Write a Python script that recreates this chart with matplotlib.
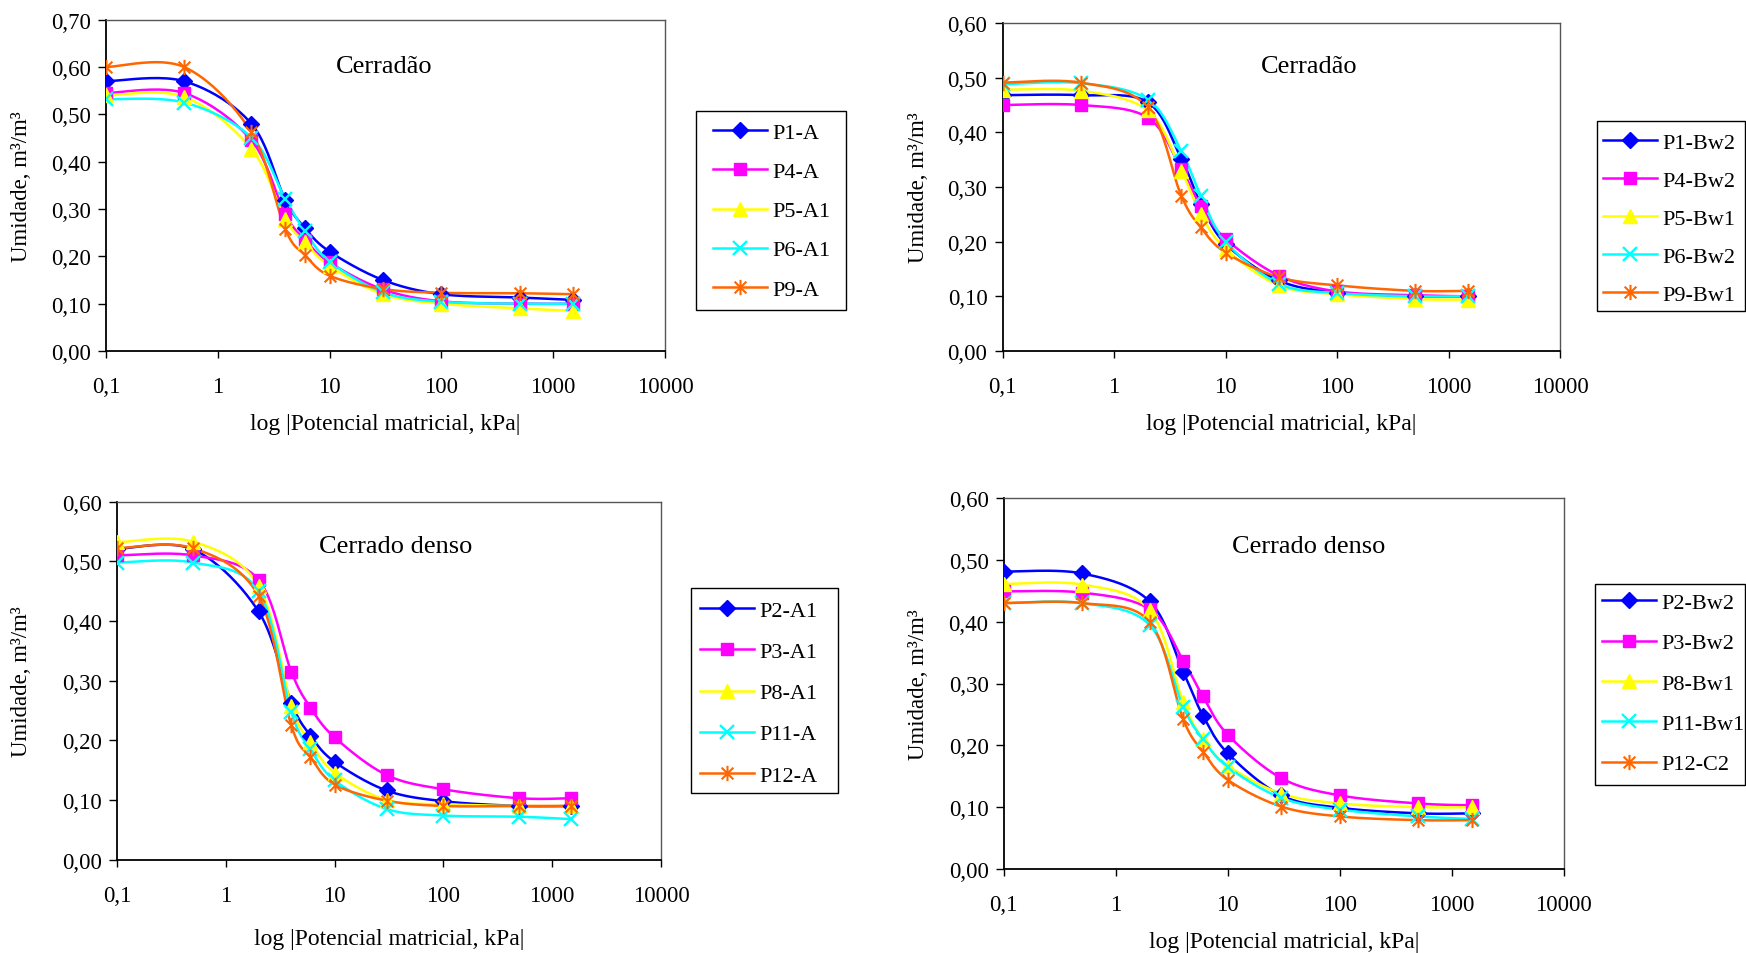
import numpy as np
import matplotlib
matplotlib.use('Agg')
import matplotlib.pyplot as plt
from matplotlib.lines import Line2D
from matplotlib.path import Path
from matplotlib.patches import Rectangle

plt.rcParams['font.family'] = ['Liberation Serif', 'DejaVu Serif']

# potencial matricial (kPa)
pot = [0.1, 0.5, 2, 4, 6, 10, 30, 100, 500, 1500]

# Cerradao - horizonte A
p1_a = [0.57, 0.57, 0.48, 0.32, 0.26, 0.21, 0.15, 0.12, 0.113, 0.108]
p4_a = [0.545, 0.545, 0.445, 0.29, 0.235, 0.187, 0.13, 0.105, 0.10, 0.10]
p5_a1 = [0.54, 0.537, 0.427, 0.279, 0.23, 0.18, 0.12, 0.10, 0.09, 0.085]
p6_a1 = [0.532, 0.525, 0.451, 0.322, 0.254, 0.189, 0.124, 0.104, 0.10, 0.10]
p9_a = [0.60, 0.60, 0.462, 0.258, 0.203, 0.159, 0.131, 0.123, 0.122, 0.12]

# Cerradao - horizonte B
p1_bw2 = [0.468, 0.468, 0.455, 0.352, 0.269, 0.196, 0.129, 0.107, 0.10, 0.10]
p4_bw2 = [0.45, 0.45, 0.427, 0.333, 0.265, 0.205, 0.138, 0.109, 0.102, 0.10]
p5_bw1 = [0.478, 0.476, 0.44, 0.33, 0.25, 0.187, 0.12, 0.104, 0.095, 0.094]
p6_bw2 = [0.488, 0.49, 0.46, 0.366, 0.284, 0.20, 0.123, 0.106, 0.10, 0.10]
p9_bw1 = [0.491, 0.491, 0.446, 0.284, 0.226, 0.18, 0.135, 0.12, 0.11, 0.11]

# Cerrado denso - horizonte A
p2_a1 = [0.521, 0.52, 0.416, 0.263, 0.208, 0.164, 0.116, 0.098, 0.09, 0.09]
p3_a1 = [0.51, 0.51, 0.469, 0.315, 0.255, 0.205, 0.142, 0.118, 0.103, 0.103]
p8_a1 = [0.532, 0.533, 0.459, 0.258, 0.197, 0.146, 0.10, 0.093, 0.09, 0.09]
p11_a = [0.498, 0.498, 0.45, 0.247, 0.185, 0.133, 0.085, 0.074, 0.072, 0.068]
p12_a = [0.522, 0.522, 0.442, 0.225, 0.172, 0.126, 0.099, 0.09, 0.09, 0.09]

# Cerrado denso - horizonte B
p2_bw2 = [0.481, 0.478, 0.433, 0.319, 0.248, 0.187, 0.119, 0.099, 0.09, 0.09]
p3_bw2 = [0.449, 0.447, 0.42, 0.337, 0.279, 0.217, 0.147, 0.119, 0.106, 0.103]
p8_bw1 = [0.461, 0.46, 0.419, 0.27, 0.21, 0.167, 0.122, 0.106, 0.10, 0.10]
p11_bw1 = [0.43, 0.43, 0.395, 0.262, 0.21, 0.165, 0.115, 0.096, 0.085, 0.081]
p12_c2 = [0.43, 0.43, 0.40, 0.242, 0.19, 0.144, 0.101, 0.085, 0.079, 0.079]

labels_tl = ['P1-A', 'P4-A', 'P5-A1', 'P6-A1', 'P9-A']
labels_tr = ['P1-Bw2', 'P4-Bw2', 'P5-Bw1', 'P6-Bw2', 'P9-Bw1']
labels_bl = ['P2-A1', 'P3-A1', 'P8-A1', 'P11-A', 'P12-A']
labels_br = ['P2-Bw2', 'P3-Bw2', 'P8-Bw1', 'P11-Bw1', 'P12-C2']

x_ticks = [0.1, 1, 10, 100, 1000, 10000]
x_ticklabels = ['0,1', '1', '10', '100', '1000', '10000']

cores = ['#0000FF', '#FF00FF', '#FFFF00', '#00FFFF', '#FF6600']
asterisco = Path([(-1, -1), (1, 1), (-1, 1), (1, -1), (0, -1.3), (0, 1.3)],
                 [Path.MOVETO, Path.LINETO] * 3)
estilos = [dict(marker='D', ms=8), dict(marker='s', ms=8.5),
           dict(marker='^', ms=9.5), dict(marker='x', ms=10, mew=1.7),
           dict(marker=asterisco, ms=11, mew=1.5)]

W, H = 1746, 954
FS_LEG = 16
EM = FS_LEG * 100 / 72


def fx(px):
    return px / W


def fy(py):
    return 1 - py / H


def suave(x, y, n=24):
    # curva suavizada tipo Excel (bezier / catmull-rom) em escala log
    lx = np.log10(x)
    y = np.asarray(y, float)
    P = np.column_stack([lx, y])
    P = np.vstack([P[0], P, P[-1]])
    out = []
    t = np.linspace(0, 1, n)[:, None]
    for i in range(1, len(P) - 2):
        p0, p1, p2, p3 = P[i - 1], P[i], P[i + 1], P[i + 2]
        c1 = p1 + (p2 - p0) / 6
        c2 = p2 - (p3 - p1) / 6
        seg = ((1 - t) ** 3) * p1 + 3 * ((1 - t) ** 2) * t * c1 + 3 * (1 - t) * t ** 2 * c2 + t ** 3 * p2
        out.append(seg if i == 1 else seg[1:])
    out = np.vstack(out)
    return 10 ** out[:, 0], out[:, 1]


fig = plt.figure(figsize=(W / 100, H / 100), dpi=100)

paineis = [
    # caixa eixos (esq, topo, dir, base) px, ymax, series, rotulos, titulo,
    # caixa legenda (esq, topo, dir, base), inicio legenda x, centro y, espacamento,
    # ylabel x, xlabel y
    ((106, 20.7, 665, 352), 0.70, [p1_a, p4_a, p5_a1, p6_a1, p9_a], labels_tl,
     'Cerradão', (384, 67), (696, 112, 846, 311), 713, 212, 39, 22, 425),
    ((1002.7, 24, 1560, 352), 0.60, [p1_bw2, p4_bw2, p5_bw1, p6_bw2, p9_bw1], labels_tr,
     'Cerradão', (1309, 67), (1597, 122, 1745, 312), 1603, 219.5, 38, 918, 425),
    ((117, 502.7, 661, 860.7), 0.60, [p2_a1, p3_a1, p8_a1, p11_a, p12_a], labels_bl,
     'Cerrado denso', (396, 547), (691, 589, 838, 794), 700, 694, 41, 22, 940),
    ((1003.8, 499, 1563.8, 870), 0.60, [p2_bw2, p3_bw2, p8_bw1, p11_bw1, p12_c2], labels_br,
     'Cerrado denso', (1309, 547), (1595, 585, 1745, 786), 1602, 684.5, 40.2, 918, 943),
]

for (box, ymax, series, labels, titulo, tpos, lbox, lx0, lyc, lsp,
     ylx, xly) in paineis:
    l, t, r, b = box
    ax = fig.add_axes([fx(l), fy(b), (r - l) / W, (b - t) / H])
    handles = []
    for yv, cor, est in zip(series, cores, estilos):
        xs, ys = suave(pot, yv)
        ax.plot(xs, ys, color=cor, lw=1.8, zorder=2)
        ax.plot(pot, yv, ls='none', color=cor, mec=cor, mfc=cor, zorder=3, **est)
        handles.append(Line2D([], [], color=cor, lw=1.8, mec=cor, mfc=cor, **est))
    ax.set_xscale('log')
    ax.set_xlim(0.1, 10000)
    ax.set_ylim(0, ymax)
    ax.set_xticks(x_ticks)
    ax.set_xticklabels(x_ticklabels)
    ax.minorticks_off()
    yt = np.arange(0, ymax + 0.001, 0.1)
    ax.set_yticks(yt)
    ax.set_yticklabels([f'{v:.2f}'.replace('.', ',') for v in yt])
    ax.tick_params(axis='x', direction='out', length=5, width=1, pad=13, labelsize=16.5)
    ax.tick_params(axis='y', direction='out', length=6, width=1, pad=5, labelsize=16.5)
    for s in ['left', 'bottom']:
        ax.spines[s].set_color('black')
        ax.spines[s].set_linewidth(1.3)
    for s in ['top', 'right']:
        ax.spines[s].set_color('#555555')
        ax.spines[s].set_linewidth(1.0)

    fig.text(fx(tpos[0]), fy(tpos[1]), titulo, ha='center', va='center', fontsize=19)
    fig.text(fx(ylx), fy((t + b) / 2), 'Umidade, m³/m³', rotation=90,
             ha='center', va='center', fontsize=16.5)
    fig.text(fx((l + r) / 2), fy(xly), 'log |Potencial matricial, kPa|',
             ha='center', va='center', fontsize=17)

    # caixa da legenda
    bl, bt, br, bb = lbox
    fig.patches.append(Rectangle((fx(bl), fy(bb)), (br - bl) / W, (bb - bt) / H,
                                 transform=fig.transFigure, facecolor='white',
                                 edgecolor='black', lw=1.0, zorder=1))
    ls = (lsp - 0.92 * EM) / EM
    fig.legend(handles=handles, labels=labels, loc='center left',
               bbox_to_anchor=(fx(lx0), fy(lyc)), bbox_transform=fig.transFigure,
               borderaxespad=0, borderpad=0, frameon=False,
               numpoints=1, handlelength=2.45, handletextpad=0.2, labelspacing=ls,
               fontsize=FS_LEG)

fig.savefig('out.png', dpi=100)
